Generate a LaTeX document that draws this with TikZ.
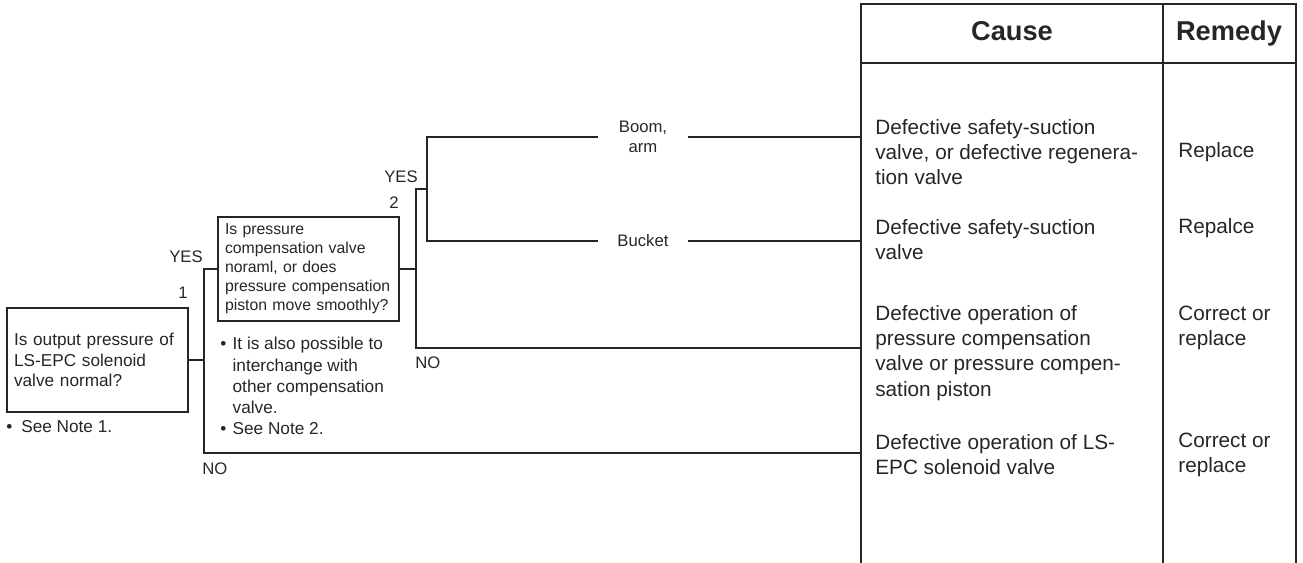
\documentclass[tikz,border=0pt]{standalone}
\usepackage{fontspec}
\setmainfont{Liberation Sans}
\newcommand{\bul}[1][7pt]{\makebox[#1][l]{\textbullet}}

\begin{document}
\begin{tikzpicture}[
        x=0.02cm, y=-0.02cm,
        every node/.style={text=black!85},
        box/.style={
            rectangle, draw=black!85, line width=0.6pt,
            text width=3.34cm, inner xsep=0.14cm,
            minimum height=2.08cm, align=left, outer sep=0pt
        },
        lab/.style={font=\fontsize{9.5}{11.5}\selectfont, inner sep=0pt},
        branch/.style={
            font=\fontsize{9.5}{11.5}\selectfont, align=center,
            minimum width=1.8cm, inner sep=0pt, outer sep=0pt
        },
        note/.style={
            font=\fontsize{9.8}{12}\selectfont, align=left,
            anchor=west, inner sep=0pt
        },
        head/.style={
            font=\bfseries\fontsize{15.5}{18}\selectfont, inner sep=0pt,
            text height=11pt, text depth=0pt
        },
        cause/.style={
            font=\fontsize{11.8}{14.3}\selectfont, align=left,
            anchor=west, inner sep=0pt
        },
        tree/.style={draw=black!85, line width=0.6pt},
        tab/.style={draw=black!85, line width=0.7pt}
    ]
    \useasboundingbox (0,0) rectangle (1303,563);

    % Cause / Remedy table
    \draw[tab] (861,563) -- (861,4) -- (1296,4) -- (1296,563);
    \draw[tab] (861,63) -- (1296,63);
    \draw[tab] (1163,4) -- (1163,563);
    \node[head] (hcause)  at (1012,31) {Cause};
    \node[head] (hremedy) at (1229,31) {Remedy};

    % Entry points on the table
    \coordinate (in1) at (861,137);
    \coordinate (in2) at (861,241);
    \coordinate (in3) at (861,348);
    \coordinate (in4) at (861,453);

    % Questions
    \node[box, font=\fontsize{9.8}{11.6}\selectfont] (q1) at (97.5,360)
        {Is output pressure of\\LS-EPC solenoid\\valve normal?};
    \node[box, font=\fontsize{9}{10.8}\selectfont] (q2) at (308.5,269)
        {Is pressure\\compensation valve\\noraml, or does\\pressure compensation\\piston move smoothly?};

    % Notes
    \node[note] (note1) at (6,427) {\bul[8.5pt]See Note 1.};
    \node[note] (note2) at (220,386)
        {\bul It is also possible to\\\hspace*{7pt}interchange with\\\hspace*{7pt}other compensation\\\hspace*{7pt}valve.\\\bul See Note 2.};

    % Step numbers and YES / NO
    \node[lab] (n1)   at (183,293) {1};
    \node[lab] (yes1) at (186,257) {YES};
    \node[lab, anchor=west] (no1) at (202,469) {NO};
    \node[lab] (n2)   at (394,203) {2};
    \node[lab] (yes2) at (401,177) {YES};
    \node[lab, anchor=west] (no2) at (415,363) {NO};

    % Branch labels
    \node[branch] (boom)   at (643,137) {Boom,\\arm};
    \node[branch] (bucket) at (643,241) {Bucket};

    % Junctions
    \coordinate (j1) at (204,360);
    \coordinate (j2) at (416,269);
    \coordinate (j3) at (427,189);

    % Tree lines
    \draw[tree] (q1.east) -- (j1);
    \draw[tree] (j1) |- (q2.west);
    \draw[tree] (j1) |- (in4);
    \draw[tree] (q2.east) -- (j2);
    \draw[tree] (j2) |- (j3);
    \draw[tree] (j2) |- (in3);
    \draw[tree] (j3) |- (boom.west);
    \draw[tree] (j3) |- (bucket.west);
    \draw[tree] (boom.east) -- (in1);
    \draw[tree] (bucket.east) -- (in2);

    % Causes
    \node[cause] (c1) at (875,152)
        {Defective safety-suction\\valve, or defective regenera-\\tion valve};
    \node[cause] (c2) at (875,240) {Defective safety-suction\\valve};
    \node[cause] (c3) at (875,353)
        {Defective operation of\\pressure compensation\\valve or pressure compen-\\sation piston};
    \node[cause] (c4) at (875,455) {Defective operation of LS-\\EPC solenoid valve};

    % Remedies
    \node[cause] (r1) at (1178,152) {Replace};
    \node[cause] (r2) at (1178,228) {Repalce};
    \node[cause] (r3) at (1178,328) {Correct or\\replace};
    \node[cause] (r4) at (1178,455) {Correct or\\replace};

    \end{tikzpicture}
\end{document}
